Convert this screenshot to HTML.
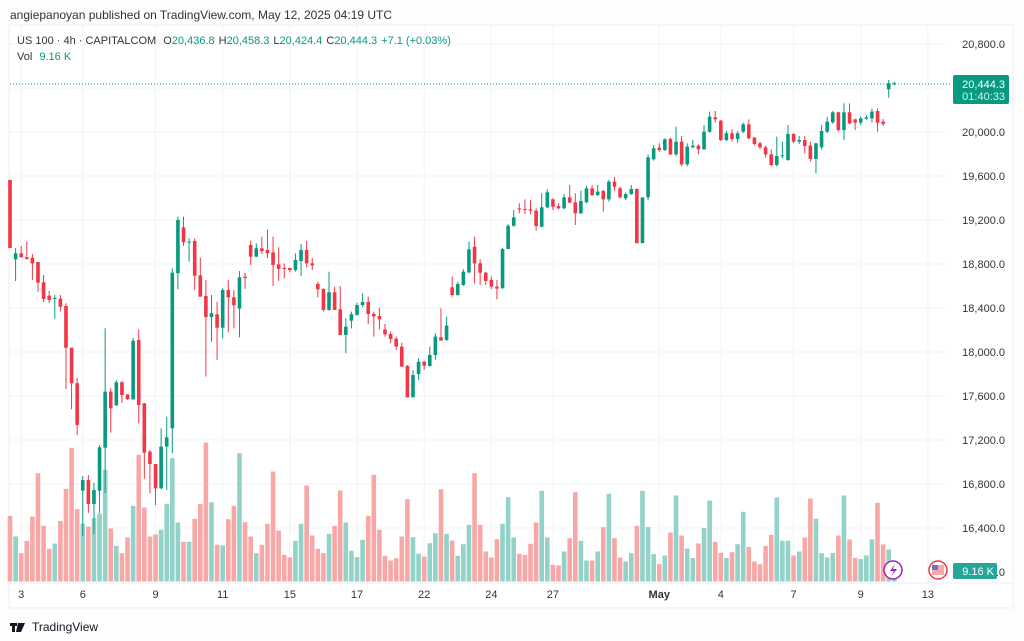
<!DOCTYPE html>
<html><head><meta charset="utf-8"><style>
html,body{margin:0;padding:0;background:#fdfdfd;width:1024px;height:641px;overflow:hidden;font-family:"Liberation Sans",sans-serif}
svg{position:absolute;left:0;top:0}
</style></head><body>
<svg id="chart" width="1024" height="641" viewBox="0 0 1024 641">
<rect x="9" y="25" width="1004" height="583" fill="#ffffff" stroke="#eceef2"/>
<g id="grid"></g>
<g id="vol"></g>
<g id="candles"></g>
<g id="axis"></g>
<g id="taxis"></g>
<text x="10" y="19" font-size="12" fill="#333">angiepanoyan published on TradingView.com, May 12, 2025 04:19 UTC</text>
<text x="17" y="44" font-size="11" fill="#333">US 100 · 4h · CAPITALCOM <tspan dx="4">O</tspan><tspan fill="#089981">20,436.8</tspan><tspan dx="4">H</tspan><tspan fill="#089981">20,458.3</tspan><tspan dx="4">L</tspan><tspan fill="#089981">20,424.4</tspan><tspan dx="4">C</tspan><tspan fill="#089981">20,444.3</tspan><tspan dx="4" fill="#089981">+7.1 (+0.03%)</tspan></text>
<text x="17" y="60" font-size="11" fill="#333">Vol <tspan dx="4" fill="#089981">9.16 K</tspan></text>
<line x1="10" x2="950" y1="84" y2="84" stroke="#089981" stroke-dasharray="1,2"/>
<rect x="953" y="75" width="56" height="29" rx="2" fill="#089981"/>
<text x="1005" y="88" font-size="11" fill="#fff" text-anchor="end">20,444.3</text>
<text x="1005" y="100" font-size="11" fill="#d8f0ea" text-anchor="end">01:40:33</text>
<rect x="953" y="563" width="44" height="16" rx="2" fill="#26a69a"/>
<text x="994" y="575" font-size="11" fill="#fff" text-anchor="end">9.16 K</text>
<circle cx="893" cy="570" r="9" fill="#fff" stroke="#9c27b0" stroke-width="1.5"/>
<path d="M895 564 L890 571 L894 571 L891 577 L897 569 L893 569 Z" fill="#9c27b0"/>
<circle cx="938" cy="570" r="9" fill="#fff" stroke="#f23645" stroke-width="1.5"/>
<rect x="932" y="565" width="12" height="10" fill="#f7a9a7"/>
<rect x="932" y="565" width="6" height="5" fill="#5b7bd5"/>
<g>
<path d="M10 623h7v3h-2v6h-3v-6h-2z M18 623h3l-3 9h-2z M21 623h4l-4 9h-3z" fill="#131722"/>
<text x="32" y="631" font-size="12" fill="#131722">TradingView</text>
</g>
</svg>
<script>
const opens=[19564,18843,18897,18861,18857,18818,18634,18512,18490,18485,18418,18039,17716,16739,16836,16618,16739,17130,17640,17516,17725,17615,17570,18109,17534,17094,16982,16761,17140,17307,18716,19133,18997,19009,18697,18509,18318,18343,18221,18564,18497,18394,18685,18973,18867,18943,18927,18906,18797,18764,18764,18745,18827,18927,18806,18618,18573,18382,18543,18388,18155,18285,18337,18427,18455,18346,18327,18206,18164,18121,18049,17873,17588,17800,17912,17873,17973,18134,18109,18588,18518,18609,18724,18957,18806,18721,18655,18594,18579,18936,19148,19306,19300,19297,19285,19139,19315,19388,19327,19306,19406,19361,19261,19361,19488,19427,19464,19388,19549,19488,19397,19436,19482,18990,19406,19752,19858,19836,19937,19797,19912,19706,19861,19876,19843,20003,20134,20103,19927,19988,19936,20003,20070,19949,19897,19861,19797,19700,19782,19745,19982,19912,19927,19876,19755,19861,20003,20088,20179,20018,20179,20115,20085,20121,20124,20191,20094,20388,20437];
const highs=[19564,18945,18964,19003,18891,18818,18700,18555,18518,18518,18443,18039,17764,16873,16882,16812,17155,18216,17670,17745,17737,17615,18127,18206,17534,17109,16982,17306,17412,18761,19230,19230,19034,19034,18857,18655,18518,18458,18579,18655,18564,18736,18721,19012,18988,19049,19115,19049,18952,18806,18764,18897,18982,19009,18855,18639,18579,18730,18594,18600,18306,18367,18449,18534,18503,18367,18403,18255,18185,18140,18085,17882,17837,17943,17921,18049,18170,18397,18321,18685,18639,18752,19003,19049,18843,18730,18685,18655,18945,19161,19291,19352,19388,19382,19306,19443,19479,19397,19352,19436,19518,19443,19467,19509,19518,19518,19473,19564,19591,19503,19449,19518,19488,19400,19797,19882,19897,19943,19949,20049,19964,19897,19927,19888,20064,20185,20191,20109,20009,20027,20009,20085,20115,19955,19912,19875,19843,19958,19912,20064,19990,19964,19964,19912,19903,20064,20134,20191,20185,20261,20261,20120,20140,20155,20215,20215,20118,20473,20458];
const lows=[18945,18646,18861,18840,18655,18548,18455,18446,18303,18367,17664,17479,17246,16327,16537,16345,16537,16718,17267,17509,17537,17564,17564,17352,16846,16716,16609,16752,16746,17079,18570,18964,18821,18564,18503,17776,18094,17928,18124,18179,18215,18134,18573,18791,18861,18891,18852,18600,18648,18670,18724,18730,18691,18770,18746,18497,18367,18376,18382,18155,17988,18215,18330,18406,18255,18140,18206,18140,18079,18018,17867,17588,17588,17746,17837,17867,17928,18103,18103,18503,18512,18600,18715,18624,18609,18609,18573,18479,18576,18936,19139,19261,19255,19252,19103,19133,19306,19291,19297,19300,19352,19155,19255,19352,19418,19418,19276,19367,19467,19397,19382,19427,18990,18990,19380,19740,19820,19827,19791,19780,19688,19688,19852,19797,19836,19994,20085,19918,19918,19912,19900,19990,19934,19882,19843,19767,19688,19688,19761,19739,19900,19891,19806,19730,19624,19840,19990,20075,20003,19927,20070,20018,20064,20110,20085,20003,20055,20312,20424];
const closes=[18945,18897,18861,18845,18806,18630,18482,18473,18491,18412,18039,17716,17337,16836,16618,16745,17134,17640,17488,17725,17609,17573,18103,17518,17085,16982,16761,17140,17225,18721,19200,18997,19003,18694,18503,18318,18352,18221,18564,18497,18425,18679,18673,18867,18943,18918,18897,18791,18755,18758,18745,18836,18927,18806,18788,18570,18382,18543,18382,18155,18230,18343,18427,18455,18346,18324,18297,18161,18118,18049,17867,17588,17791,17912,17876,17973,18140,18103,18240,18518,18618,18730,18933,18806,18721,18646,18594,18576,18936,19148,19224,19297,19291,19285,19145,19315,19452,19321,19306,19406,19358,19261,19373,19488,19427,19458,19388,19549,19503,19406,19436,19482,18990,19406,19770,19852,19836,19934,19797,19912,19706,19867,19876,19843,20003,20140,20116,19927,19988,19936,19988,20070,19943,19891,19861,19797,19700,19782,19788,19982,19912,19927,19873,19755,19897,20009,20094,20179,20018,20179,20079,20085,20124,20134,20185,20085,20073,20443,20444];
const volumes=[65.7,45,28.3,40.7,65,108.3,55.7,32.7,38,60.7,92.7,133.7,72.3,57.7,55,63.3,68,111.7,53,35.7,28.3,44,75.7,126.7,74,45,47,51.7,77.7,123.3,59,39.7,39.7,62.7,77.7,139,79.3,36.7,36,62.3,75.7,128.3,59.3,45,28.3,36.7,57.7,110,51,26.7,24,40.7,57.7,96,46,32.7,28.3,47.7,55.7,91,59,30.7,24.3,41.7,65.7,106.7,51.7,25.7,21,23.3,45,82.3,44.3,27.7,25,38.3,48.3,92.3,47.7,41,25.7,37.3,56.7,108.3,56.7,30,24,42.3,57.7,84.3,44,27.7,26.7,37.7,59,90.7,44,16.7,16,30,43.3,89.3,40.7,21,21,30,54.3,87.7,43.3,24,20,28.3,55.7,90.7,54.5,27.6,17.3,26,49,86,46,33,23.5,38,53.5,81,39.7,28.6,23.5,29.3,37.3,69.7,34.5,20,17.3,35.6,46.6,84,40.7,40.7,26,30,44,83,62.8,28.3,24,28.6,46,86,42,23.5,22.4,26,42,78.7,37,32,3.5];
const priceTicks=[20800,20400,20000,19600,19200,18800,18400,18000,17600,17200,16800,16400];
const dateLabels=["3","6","9","11","15","17","22","24","27","May","4","7","9","13"];
const dateIndex=[2,13,26,38,50,62,74,86,97,116,127,140,152,164];

const NS="http://www.w3.org/2000/svg";
function yP(p){return 44+(20800-p)*0.11;}
function xI(i){return 10+i*5.597;}
function yV(v){return 581.5-v;}
function mk(t,a,parent){const e=document.createElementNS(NS,t);for(const k in a)e.setAttribute(k,a[k]);parent.appendChild(e);return e;}
const grid=document.getElementById('grid'),vol=document.getElementById('vol'),cg=document.getElementById('candles'),ax=document.getElementById('axis'),tx=document.getElementById('taxis');
priceTicks.forEach(p=>{
  const l=mk('line',{x1:10,x2:945,y1:yP(p),y2:yP(p),stroke:'#f2f3f5'},grid);
  
  
  if(Math.abs(yP(p)-84)<8)return;
  const t=mk('text',{x:1005,y:yP(p)+4,'font-size':11,fill:'#333','text-anchor':'end'},ax);
  t.textContent=p.toLocaleString('en-US')+'.0';
  
  
});
dateLabels.forEach((d,k)=>{
  const x=xI(dateIndex[k]);
  const l=mk('line',{x1:x,x2:x,y1:26,y2:582,stroke:'#f2f3f5'},grid);
  
  
  const t=mk('text',{x:x,y:598,'font-size':11,fill:'#333','text-anchor':'middle','font-weight':d==='May'?'bold':'normal'},tx);
  t.textContent=d;
  
  
});
mk('line',{x1:10,x2:1012,y1:583,y2:583,stroke:'#eceef2'},tx);
opens.forEach((o,i)=>{
  const c=closes[i],up=c>=o,x=xI(i);
  const col=up?'#089981':'#f23645';
  const vb=mk('rect',{x:x-2.3,y:yV(volumes[i]),width:4.6,height:volumes[i],fill:up?'#92d2c8':'#f7a8a6'},vol);
  
  
  const w=mk('line',{x1:x,x2:x,y1:yP(highs[i]),y2:yP(lows[i]),stroke:col,'stroke-width':1},cg);
  
  
  const top=yP(Math.max(o,c)),h=Math.max(1,Math.abs(yP(o)-yP(c)));
  const b=mk('rect',{x:x-1.8,y:top,width:3.6,height:h,fill:col},cg);
  
  
});
const zero=mk('text',{x:1005,y:yP(16000)+4,'font-size':11,fill:'#333','text-anchor':'end'},ax);
zero.textContent='.0';


</script>
</body></html>
